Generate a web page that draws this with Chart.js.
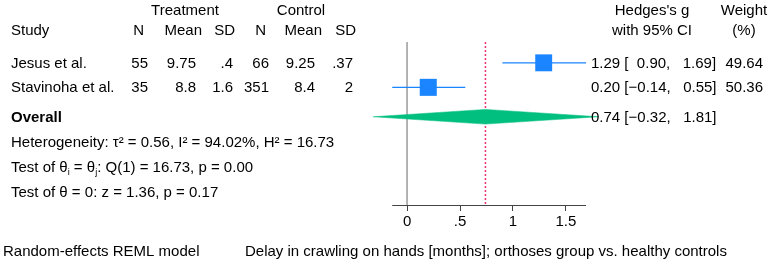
<!DOCTYPE html>
<html lang="en">
<head>
  <meta charset="UTF-8" />
  <title>Forest plot</title>
  <script src="https://cdn.jsdelivr.net/npm/chart.js"></script>
  <style>
    body { margin: 0; background: #fff; }
    #wrap { width: 774px; height: 262px; position: relative; }
  </style>
</head>
<body>
  <div id="wrap"><canvas id="forest"></canvas></div>

  <script>
    // study data
    const studies = ["Jesus et al.", "Stavinoha et al."];
    const trtN = [55, 35];
    const trtMean = [9.75, 8.8];
    const trtSD = [0.4, 1.6];
    const ctlN = [66, 351];
    const ctlMean = [9.25, 8.4];
    const ctlSD = [0.37, 2];
    const effect = [1.29, 0.20];
    const ciLow = [0.90, -0.14];
    const ciHigh = [1.69, 0.55];
    const weight = [49.64, 50.36];
    const rows = [1, 2];

    const overallEst = 0.74;
    const overallLow = -0.32;
    const overallHigh = 1.81;
    const overallRow = 3.2;

    const xTicks = [0, 0.5, 1, 1.5];
    const xTickLabels = ["0", ".5", "1", "1.5"];

    const statLines = [
      [{ t: "Heterogeneity: τ² = 0.56, I² = 94.02%, H² = 16.73" }],
      [{ t: "Test of θ" }, { t: "i", sub: true }, { t: " = θ" }, { t: "j", sub: true }, { t: ": Q(1) = 16.73, p = 0.00" }],
      [{ t: "Test of θ = 0: z = 1.36, p = 0.17" }]
    ];
    const noteLeft = "Random-effects REML model";
    const noteRight = "Delay in crawling on hands [months]; orthoses group vs. healthy controls";

    const BLUE = "#1a85ff";
    const GREEN = "#00bf7f";
    const RED = "#e8336f";
    const FONT = '"Liberation Sans", Arial, sans-serif';

    const yMin = 0.15, yMax = 6.8;

    function stataNum(v) {
      return String(v).replace(/^0\./, ".");
    }
    function ciNum(v) {
      return v < 0 ? "\u2212" + Math.abs(v).toFixed(2) : "\u2007" + v.toFixed(2);
    }
    function ciText(e, lo, hi) {
      return e.toFixed(2) + " [" + ciNum(lo) + ", " + ciNum(hi) + "]";
    }

    const datasets = [];
    // reference lines
    datasets.push({
      data: [{ x: 0, y: yMin }, { x: 0, y: yMax }],
      showLine: true, borderColor: "#a8a8a8", borderWidth: 1, pointRadius: 0, order: 10
    });
    datasets.push({
      data: [{ x: overallEst, y: yMin }, { x: overallEst, y: yMax }],
      showLine: true, borderColor: RED, backgroundColor: RED, borderWidth: 1.5,
      borderDash: [2, 2], pointRadius: 0, order: 9
    });
    // confidence intervals
    rows.forEach((r, i) => {
      datasets.push({
        data: [{ x: ciLow[i], y: r }, { x: ciHigh[i], y: r }],
        showLine: true, borderColor: BLUE, borderWidth: 1.3, pointRadius: 0, order: 5
      });
    });
    // effect squares sized by weight
    datasets.push({
      data: rows.map((r, i) => ({ x: effect[i], y: r })),
      pointStyle: "rect",
      pointRadius: weight.map(w => 12 * Math.sqrt(w / 50)),
      backgroundColor: BLUE, borderWidth: 0, order: 3
    });
    // overall diamond
    const dh = 0.3;
    datasets.push({
      data: [
        { x: overallLow, y: overallRow },
        { x: overallEst, y: overallRow - dh },
        { x: overallHigh, y: overallRow },
        { x: overallEst, y: overallRow + dh },
        { x: overallLow, y: overallRow }
      ],
      showLine: true, fill: "shape", backgroundColor: GREEN, borderColor: GREEN,
      borderWidth: 0.5, pointRadius: 0, order: 1, clip: false
    });

    function drawSegments(ctx, segs, x, y) {
      segs.forEach(s => {
        if (s.sub) {
          ctx.font = "9px " + FONT;
          ctx.fillText(s.t, x, y + 5);
        } else {
          ctx.font = "15px " + FONT;
          ctx.fillText(s.t, x, y);
        }
        x += ctx.measureText(s.t).width;
      });
    }

    const tablePlugin = {
      id: "table",
      beforeDatasetsDraw(chart) {
        const ctx = chart.ctx;
        const xs = chart.scales.x;
        const bottom = chart.chartArea.bottom;
        ctx.save();
        ctx.strokeStyle = "#444";
        ctx.lineWidth = 1;
        ctx.beginPath();
        ctx.moveTo(xs.getPixelForValue(Math.min(...ciLow)), bottom + 0.5);
        ctx.lineTo(xs.getPixelForValue(Math.max(...ciHigh)), bottom + 0.5);
        ctx.stroke();
        ctx.restore();
      },
      afterDraw(chart) {
        const ctx = chart.ctx;
        const ys = chart.scales.y;
        ctx.save();
        ctx.fillStyle = "#000";
        ctx.textBaseline = "middle";
        ctx.font = "15px " + FONT;

        // headers
        ctx.textAlign = "center";
        ctx.fillText("Treatment", 185, 11);
        ctx.fillText("Control", 301, 11);
        ctx.fillText("Hedges's g", 652, 11);
        ctx.fillText("with 95% CI", 652, 31);
        ctx.fillText("Weight", 744, 11);
        ctx.fillText("(%)", 744, 31);
        ctx.textAlign = "left";
        ctx.fillText("Study", 11, 31);
        ctx.textAlign = "right";
        [["N", 144], ["Mean", 202], ["SD", 235], ["N", 266], ["Mean", 322], ["SD", 356]]
          .forEach(([t, x]) => ctx.fillText(t, x, 31));

        // study rows
        rows.forEach((r, i) => {
          const y = ys.getPixelForValue(r) + 1;
          ctx.textAlign = "left";
          ctx.fillText(studies[i], 11, y);
          ctx.fillText(ciText(effect[i], ciLow[i], ciHigh[i]), 591, y);
          ctx.textAlign = "right";
          ctx.fillText(String(trtN[i]), 148, y);
          ctx.fillText(stataNum(trtMean[i]), 196, y);
          ctx.fillText(stataNum(trtSD[i]), 233, y);
          ctx.fillText(String(ctlN[i]), 269, y);
          ctx.fillText(stataNum(ctlMean[i]), 315, y);
          ctx.fillText(stataNum(ctlSD[i]), 353, y);
          ctx.fillText(weight[i].toFixed(2), 763, y);
        });

        // overall
        const oy = ys.getPixelForValue(overallRow) + 1;
        ctx.textAlign = "left";
        ctx.font = "bold 15px " + FONT;
        ctx.fillText("Overall", 11, oy);
        ctx.font = "15px " + FONT;
        ctx.fillText(ciText(overallEst, overallLow, overallHigh), 591, oy);

        statLines.forEach((segs, k) => drawSegments(ctx, segs, 11, 143 + k * 25));

        ctx.font = "15px " + FONT;
        ctx.fillText(noteLeft, 3, 252);
        ctx.fillText(noteRight, 245, 252);
        ctx.restore();
      }
    };

    Chart.defaults.font.family = FONT;
    Chart.defaults.font.size = 15;
    Chart.defaults.color = "#000";

    new Chart(document.getElementById("forest"), {
      type: "scatter",
      data: { datasets: datasets },
      options: {
        responsive: true,
        maintainAspectRatio: false,
        animation: false,
        layout: { padding: { left: 370, right: 171, top: 42, bottom: 0 } },
        plugins: { legend: { display: false }, tooltip: { enabled: false } },
        scales: {
          x: {
            type: "linear",
            min: -0.35,
            max: 1.85,
            afterBuildTicks: s => { s.ticks = xTicks.map(v => ({ value: v })); },
            afterFit: s => { s.height = 57; },
            border: { display: false },
            grid: { drawOnChartArea: false, drawTicks: true, tickLength: 6, color: "#444" },
            ticks: {
              padding: 2,
              maxRotation: 0,
              autoSkip: false,
              callback: (v, i) => xTickLabels[i]
            }
          },
          y: {
            type: "linear",
            display: false,
            reverse: true,
            min: yMin,
            max: yMax
          }
        }
      },
      plugins: [tablePlugin]
    });
  </script>
</body>
</html>
